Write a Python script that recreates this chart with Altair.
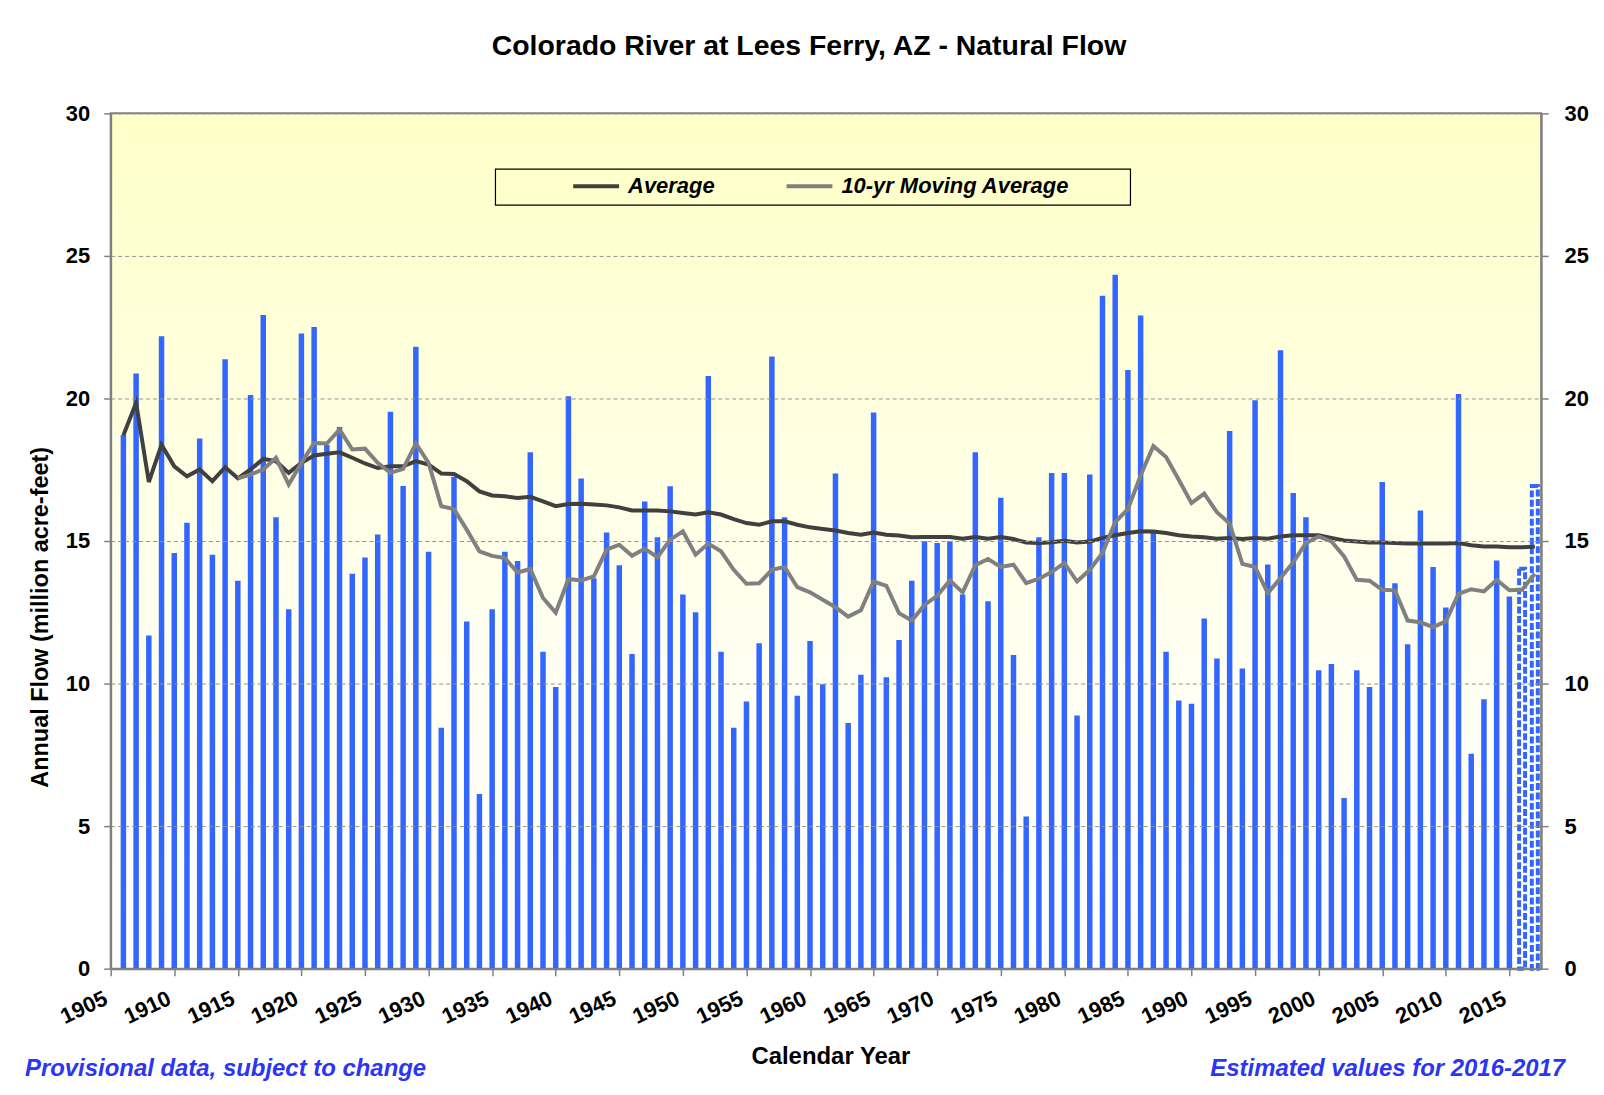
import altair as alt
import pandas as pd

F = "Liberation Sans"
BLUE = "#3366FF"

# ---- data ----
years = list(range(1906, 2018))
flow = [18.72, 20.88, 11.69, 22.18, 14.58, 15.64, 18.60, 14.52, 21.38, 13.61,
        20.12, 22.93, 15.83, 12.61, 22.28, 22.51, 18.37, 19.00, 13.85, 14.42,
        15.23, 19.53, 16.93, 21.81, 14.62, 8.45, 17.25, 12.18, 6.13, 12.61,
        14.62, 14.30, 18.11, 11.12, 9.88, 20.08, 17.19, 13.69, 15.30, 14.15,
        11.04, 16.39, 15.13, 16.92, 13.12, 12.50, 20.79, 11.12, 8.45, 9.37,
        11.41, 21.47, 15.83, 9.57, 11.49, 9.98, 17.37, 8.62, 10.31, 19.51,
        10.22, 11.53, 13.61, 14.99, 14.93, 14.99, 13.12, 18.11, 12.89, 16.52,
        11.00, 5.34, 15.13, 17.39, 17.39, 8.88, 17.33, 23.60, 24.34, 21.00,
        22.91, 15.32, 11.12, 9.41, 9.29, 12.28, 10.88, 18.86, 10.53, 19.94,
        14.18, 21.69, 16.68, 15.83, 10.47, 10.69, 5.99, 10.47, 9.88, 17.07,
        13.52, 11.38, 16.07, 14.09, 12.67, 20.16, 7.54, 9.45, 14.32, 13.05,
        14.03, 16.93]
estimated_years = [2016, 2017]

average = [18.71, 19.85, 17.07, 18.38, 17.62, 17.27, 17.51, 17.10, 17.59, 17.20,
           17.51, 17.88, 17.80, 17.39, 17.74, 18.00, 18.06, 18.11,
           17.92, 17.72, 17.56, 17.62, 17.62, 17.80, 17.68, 17.37, 17.35, 17.10,
           16.74, 16.60, 16.57, 16.51, 16.55, 16.39, 16.22, 16.30, 16.31,
           16.28, 16.25, 16.18, 16.07, 16.07, 16.07, 16.04, 15.98, 15.93, 16.01,
           15.93, 15.77, 15.63, 15.57, 15.69, 15.69, 15.57, 15.48, 15.42,
           15.37, 15.28, 15.22, 15.30, 15.22, 15.19, 15.13, 15.14, 15.14, 15.14,
           15.08, 15.14, 15.08, 15.14, 15.07, 14.95, 14.93, 14.96, 15.01,
           14.95, 14.98, 15.11, 15.20, 15.28, 15.34, 15.33, 15.28, 15.20, 15.16,
           15.13, 15.08, 15.11, 15.07, 15.11, 15.08, 15.16, 15.20, 15.20,
           15.20, 15.11, 15.02, 14.98, 14.95, 14.95, 14.93, 14.91, 14.91, 14.91,
           14.91, 14.93, 14.85, 14.81, 14.81, 14.78, 14.78, 14.81]

moving_years = list(range(1915, 2018))
moving_avg = [17.20, 17.33, 17.51, 17.92, 16.98, 17.74, 18.44, 18.42, 18.91,
              18.21, 18.24, 17.74, 17.39, 17.53, 18.42, 17.74, 16.22, 16.12, 15.40,
              14.64, 14.48, 14.40, 13.90, 14.02, 13.00, 12.49, 13.67, 13.62,
              13.76, 14.70, 14.87, 14.48, 14.73, 14.43, 15.05, 15.34, 14.52, 14.91,
              14.64, 13.99, 13.50, 13.52, 13.99, 14.09, 13.38, 13.20, 12.94,
              12.68, 12.35, 12.57, 13.58, 13.43, 12.47, 12.21, 12.76, 13.08, 13.62,
              13.20, 14.15, 14.37, 14.09, 14.17, 13.52, 13.68, 13.91, 14.23,
              13.58, 13.99, 14.58, 15.66, 16.12, 17.30, 18.33, 17.95, 17.15, 16.33,
              16.66, 16.01, 15.61, 14.20, 14.09, 13.17, 13.70, 14.25, 14.93,
              15.16, 14.99, 14.46, 13.64, 13.61, 13.29, 13.27, 12.21, 12.15, 11.98,
              12.18, 13.15, 13.31, 13.23, 13.64, 13.27, 13.29, 13.85]

series_names = ["Average", "10-yr Moving Average"]
series_colors = ["#404040", "#808080"]
x_ticks = list(range(1905, 2016, 5))
y_ticks = [0, 5, 10, 15, 20, 25, 30]

# ---- tables ----
bars = pd.DataFrame({"year": years, "flow": flow})
bars["est"] = bars["year"].isin(estimated_years)
obs = bars[~bars["est"]]
est = bars[bars["est"]]
lines = pd.concat([
    pd.DataFrame({"year": years, "value": average, "series": series_names[0]}),
    pd.DataFrame({"year": moving_years, "value": moving_avg, "series": series_names[1]}),
], ignore_index=True)

W, H = 1435, 858

x_scale = alt.Scale(domain=[1905, 2017.5], nice=False, zero=False, padding=0)
x_axis = alt.Axis(values=x_ticks, format="d", labelAngle=335, labelAlign="right",
                  labelBaseline="bottom", labelFont=F, labelFontSize=22,
                  labelFontWeight="bold", labelColor="black", labelPadding=32,
                  labelFlush=False, labelOverlap=False, tickSize=7, tickColor="#808080",
                  tickWidth=1.5, domainColor="#808080", domainWidth=2, grid=False,
                  title="Calendar Year", titleFont=F, titleFontSize=24,
                  titleFontWeight="bold", titleColor="black", titleX=722, titleY=88,
                  titleBaseline="middle", zindex=1)


def X():
    return alt.X("year:Q", scale=x_scale, axis=x_axis)


y_scale = alt.Scale(domain=[0, 30], nice=False, zero=True, padding=0)
y_left = alt.Axis(values=y_ticks, labelFont=F, labelFontSize=22, labelFontWeight="bold",
                  labelColor="black", labelPadding=14, tickSize=7, tickColor="#808080",
                  tickWidth=1.5, domainColor="#808080", domainWidth=2, grid=True,
                  gridDash=[4, 3], gridColor="#939393", gridWidth=1,
                  title="Annual Flow (million acre-feet)", titleFont=F, titleFontSize=23.5,
                  titleFontWeight="bold", titleColor="black", titleAngle=270,
                  titleX=-70, titleY=505, titleAlign="center", titleBaseline="middle",
                  zindex=1)
y_right = alt.Axis(orient="right", values=y_ticks, labelFont=F, labelFontSize=22,
                   labelFontWeight="bold", labelColor="black", labelPadding=16, tickSize=7,
                   tickColor="#808080", tickWidth=1.5, domainColor="#808080", domainWidth=2,
                   grid=False, title="", zindex=1)

one = pd.DataFrame({"k": [0]})

background = alt.Chart(one).mark_rect(
    color=alt.Gradient(gradient="linear", x1=0, x2=0, y1=0, y2=1,
                       stops=[alt.GradientStop(color="#FFFFC8", offset=0),
                              alt.GradientStop(color="#FFFFF0", offset=0.6),
                              alt.GradientStop(color="#FFFFFF", offset=1)]),
    stroke="#808080", strokeWidth=2,
).encode(x=alt.value(0), x2=alt.value(W), y=alt.value(0), y2=alt.value(H))

legend_box = alt.Chart(one).mark_rect(fill="#FFFFCC", stroke="black", strokeWidth=1.2).encode(
    x=alt.value(386), x2=alt.value(1023), y=alt.value(56), y2=alt.value(92))

bar_obs = alt.Chart(obs).mark_bar(size=5.5, color=BLUE).encode(
    x=X(), y=alt.Y("flow:Q", scale=y_scale, axis=y_left))

bar_est = alt.Chart(est).mark_bar(size=6, fill="white", stroke=BLUE, strokeDash=[7, 2.5],
                                  strokeWidth=4).encode(
    x=X(), y=alt.Y("flow:Q", scale=y_scale, axis=None))

color = alt.Color("series:N", scale=alt.Scale(domain=series_names, range=series_colors),
                  legend=alt.Legend(orient="none", legendX=462, legendY=48,
                                    direction="horizontal", columns=2, title=None,
                                    symbolType="stroke", symbolSize=2116,
                                    symbolStrokeWidth=4, labelFont=F, labelFontSize=22,
                                    labelFontWeight="bold", labelFontStyle="italic",
                                    labelColor="black", labelOffset=7, labelLimit=400,
                                    columnPadding=64, padding=0))

line_avg = alt.Chart(lines).transform_filter(
    alt.datum.series == series_names[0]).mark_line(strokeWidth=4).encode(
    x=X(), y=alt.Y("value:Q", scale=y_scale, axis=None), color=color)

line_mov = alt.Chart(lines).transform_filter(
    alt.datum.series == series_names[1]).mark_line(strokeWidth=4).encode(
    x=X(), y=alt.Y("value:Q", scale=y_scale, axis=y_right), color=color)

note_left = alt.Chart(one).mark_text(text="Provisional data, subject to change", font=F,
                                     fontSize=24, fontWeight="bold", fontStyle="italic",
                                     color="#2B35F5", align="left", baseline="middle").encode(
    x=alt.value(-86), y=alt.value(959))
note_right = alt.Chart(one).mark_text(text="Estimated values for 2016-2017", font=F,
                                      fontSize=24, fontWeight="bold", fontStyle="italic",
                                      color="#2B35F5", align="right", baseline="middle").encode(
    x=alt.value(1459), y=alt.value(959))

chart = alt.layer(background, legend_box, bar_obs, bar_est, line_avg,
                  line_mov, note_left, note_right).resolve_scale(y="independent").properties(
    width=W, height=H,
    title=alt.TitleParams(text="Colorado River at Lees Ferry, AZ - Natural Flow", font=F,
                          fontSize=28.5, fontWeight="bold", color="black", anchor="middle",
                          dx=-17, offset=19, baseline="alphabetic"),
    autosize=alt.AutoSizeParams(type="none"),
    padding={"left": 103, "top": 104, "right": 55, "bottom": 117},
).configure_view(stroke="transparent").configure(background="white")

chart.save("out.html", embed_options={"renderer": "svg", "actions": False})
